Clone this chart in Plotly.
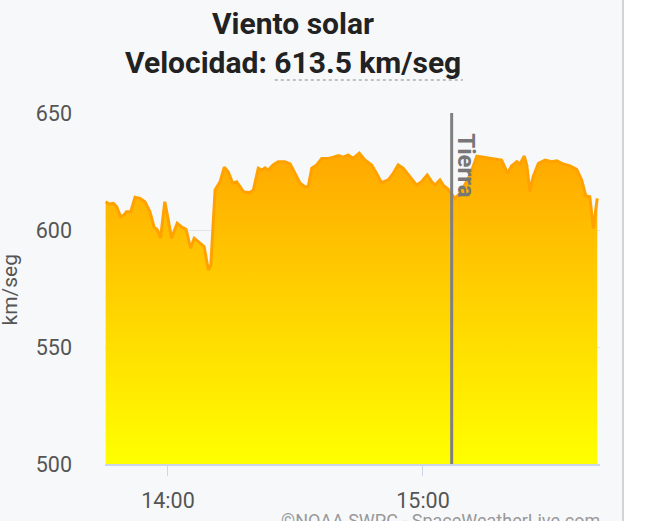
import plotly.graph_objects as go

# solar wind speed readings (time of day, km/s)
day = "2024-05-10 "
times = ["13:45:20", "13:46:10", "13:47:10", "13:47:55", "13:48:50", "13:49:40", "13:50:15", "13:51:15",
         "13:52:15", "13:53:25", "13:54:35", "13:55:45", "13:56:45", "13:57:30", "13:58:15", "13:59:15",
         "14:00:05", "14:00:50", "14:02:10", "14:03:15", "14:04:15", "14:05:20", "14:06:10", "14:07:10",
         "14:08:30", "14:09:30", "14:10:05", "14:11:05", "14:12:15", "14:13:15", "14:14:10", "14:15:15",
         "14:16:10", "14:17:45", "14:19:15", "14:20:05", "14:21:15", "14:22:05", "14:22:50", "14:23:35",
         "14:24:45", "14:25:55", "14:27:30", "14:28:45", "14:29:55", "14:31:05", "14:32:15", "14:33:00",
         "14:33:50", "14:35:00", "14:36:10", "14:37:45", "14:38:55", "14:40:05", "14:41:15", "14:42:25",
         "14:43:35", "14:45:00", "14:46:20", "14:47:55", "14:49:05", "14:50:15", "14:51:50", "14:53:00",
         "14:54:10", "14:55:20", "14:56:55", "14:58:30", "14:59:40", "15:01:00", "15:02:05", "15:02:50",
         "15:04:00", "15:04:45", "15:05:55", "15:07:30", "15:08:45", "15:11:05", "15:12:40", "15:14:10",
         "15:16:30", "15:18:30", "15:19:55", "15:20:50", "15:22:05", "15:22:50", "15:23:50", "15:24:25",
         "15:25:10", "15:25:55", "15:27:10", "15:28:45", "15:30:15", "15:31:30", "15:33:00", "15:34:35",
         "15:36:10", "15:37:20", "15:38:20", "15:39:15", "15:40:05", "15:41:00"]
speed = [612.1, 611.1, 611.4, 610.0, 605.7, 606.4, 607.8, 607.8,
         614.0, 613.5, 612.1, 607.8, 601.2, 600.0, 596.5, 612.1,
         604.3, 596.5, 602.9, 601.2, 600.3, 592.2, 596.5, 595.0,
         592.9, 582.9, 585.0, 617.1, 620.6, 626.8, 624.9, 620.0,
         620.6, 616.4, 615.9, 617.1, 626.4, 625.6, 626.6, 625.6,
         627.8, 629.2, 629.2, 628.2, 624.2, 620.0, 618.5, 618.5,
         626.4, 627.8, 630.6, 630.6, 631.1, 631.8, 631.1, 632.1,
         630.6, 632.8, 629.9, 627.8, 624.2, 620.2, 621.4, 624.2,
         627.8, 626.4, 622.8, 619.2, 620.6, 623.5, 620.6, 619.2,
         621.4, 619.2, 617.4, 613.5, 615.7, 623.5, 631.6, 631.1,
         630.6, 629.9, 624.2, 627.4, 629.2, 628.2, 631.6, 627.8,
         616.4, 622.8, 628.5, 629.9, 629.2, 629.6, 628.2, 627.4,
         625.9, 621.4, 614.5, 614.2, 600.7, 613.5]
earth_time = "15:06:45"
x_range = ["13:45:11", "15:41:39"]
y_ticks = [500, 550, 600, 650]

x = [day + t for t in times]

fig = go.Figure()
fig.add_trace(go.Scatter(
    x=x, y=speed, mode="lines", fill="tozeroy",
    line=dict(color="#ffa200", width=3),
    fillgradient=dict(type="vertical", start=500, stop=633,
                      colorscale=[[0, "#ffff00"], [1, "#ffa800"]]),
    showlegend=False,
))

# Earth marker
fig.add_shape(type="line", x0=day + earth_time, x1=day + earth_time, y0=500, y1=650,
              xref="x", yref="y", line=dict(color="#808080", width=3))
fig.add_annotation(x=day + earth_time, y=650, xref="x", yref="y", text="<b>Tierra</b>",
                   textangle=90, showarrow=False, xanchor="left", yanchor="top",
                   xshift=-2, yshift=-18, font=dict(size=24, color="#777777", family="Roboto"))

# title lines
fig.add_annotation(x=0.38, y=1.2536, xref="paper", yref="paper", text="<b>Viento solar</b>",
                   showarrow=False, yanchor="middle",
                   font=dict(size=30, color="#222222", family="Roboto"))
fig.add_annotation(x=0.38, y=1.1425, xref="paper", yref="paper", text="<b>Velocidad: 613.5 km/seg</b>",
                   showarrow=False, yanchor="middle",
                   font=dict(size=30, color="#222222", family="Roboto"))
fig.add_shape(type="line", xref="paper", yref="paper", x0=0.343, x1=0.723, y0=1.094, y1=1.094,
              line=dict(color="#888888", width=1.2, dash="dot"))

# y axis title
fig.add_annotation(x=-0.191, y=0.4986, xref="paper", yref="paper", text="km/seg", textangle=-90,
                   showarrow=False, xanchor="center", yanchor="middle",
                   font=dict(size=21, color="#555555", family="Roboto"))

# credit
fig.add_annotation(x=1.004, y=-0.125, xref="paper", yref="paper", text="©NOAA SWPC - SpaceWeatherLive.com",
                   showarrow=False, xanchor="right", yanchor="top",
                   font=dict(size=18, color="#999999", family="Roboto"))

# right panel border
fig.add_shape(type="rect", xref="paper", yref="paper", x0=1.0465, x1=1.12, y0=-0.2, y1=1.4,
              fillcolor="white", line=dict(width=0), layer="below")
fig.add_shape(type="line", xref="paper", yref="paper", x0=1.0465, x1=1.0465, y0=-0.2, y1=1.4,
              line=dict(color="#d4d4d4", width=2))

fig.update_xaxes(
    range=[day + x_range[0], day + x_range[1]], tickformat="%H:%M", dtick=3600000,
    tick0=day + "14:00:00", showgrid=False, showline=True, linecolor="#ccd6eb", linewidth=1.5,
    ticks="outside", ticklen=10, tickcolor="#ccd6eb", ticklabelstandoff=6, automargin=False,
    tickfont=dict(size=21.5, color="#555555", family="Roboto"),
)
fig.update_yaxes(
    range=[500, 650], tickvals=y_ticks, showgrid=True, gridcolor="#e3e3e3", zeroline=False,
    tickfont=dict(size=21.5, color="#555555", family="Roboto"), ticklabelstandoff=32,
    automargin=False,
)
fig.update_layout(
    width=654, height=521,
    margin=dict(l=105, r=54, t=113, b=57),
    paper_bgcolor="#f7f8fa", plot_bgcolor="#f7f8fa",
)

fig.write_html("out.html", config={"displayModeBar": False},
               post_script="document.body.style.margin='0';")
